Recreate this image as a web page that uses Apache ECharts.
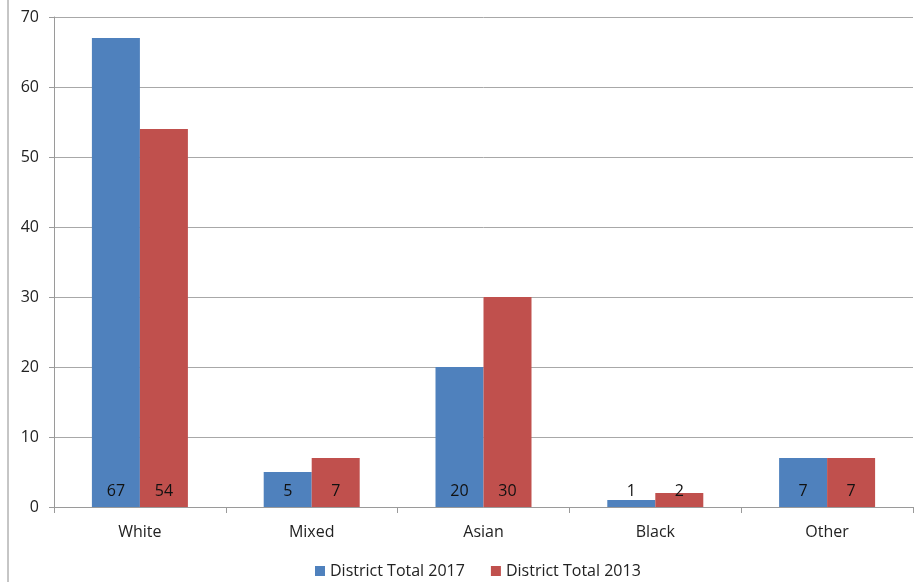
<!DOCTYPE html>
<html>
<head>
<meta charset="utf-8">
<script src="https://cdn.jsdelivr.net/npm/echarts@6/dist/echarts.min.js"></script>
<style>
  html, body { margin: 0; padding: 0; background: #fff; }
  #chart { width: 914px; height: 582px; }
</style>
</head>
<body>
<div id="chart"></div>
<script>
var categories = ['White', 'Mixed', 'Asian', 'Black', 'Other'];
var total2017 = [67, 5, 20, 1, 7];
var total2013 = [54, 7, 30, 2, 7];
var seriesNames = ['District Total 2017', 'District Total 2013'];
var barColors = ['#4F81BD', '#C0504D'];
var fontFamily = '"Open Sans", "Noto Sans", sans-serif';

var labelStyle = {
    show: true,
    position: 'insideBottom',
    distance: 8,
    color: '#111',
    fontSize: 16,
    fontFamily: fontFamily
};

var option = {
    animation: false,
    color: barColors,
    grid: {
        left: 54,
        right: 1,
        top: 17,
        bottom: 75
    },
    legend: {
        bottom: -2,
        left: 310,
        itemWidth: 10,
        itemHeight: 10,
        itemGap: 26,
        icon: 'rect',
        textStyle: { fontSize: 16, color: '#222', fontFamily: fontFamily },
        data: seriesNames
    },
    xAxis: {
        type: 'category',
        data: categories,
        axisLine: { lineStyle: { color: '#9a9a9a' } },
        axisTick: { show: true, length: 6, lineStyle: { color: '#9a9a9a' } },
        axisLabel: { margin: 17, fontSize: 16, color: '#222', fontFamily: fontFamily }
    },
    yAxis: {
        type: 'value',
        min: 0,
        max: 70,
        interval: 10,
        axisLine: { show: true, lineStyle: { color: '#9a9a9a' } },
        axisTick: { show: true, length: 5, lineStyle: { color: '#9a9a9a' } },
        axisLabel: { margin: 15, fontSize: 16, color: '#222', fontFamily: fontFamily },
        splitLine: { lineStyle: { color: '#a8a8a8' } }
    },
    series: [
        {
            name: seriesNames[0],
            type: 'bar',
            data: total2017,
            barWidth: 48,
            barGap: '0%',
            label: labelStyle
        },
        {
            name: seriesNames[1],
            type: 'bar',
            data: total2013,
            barWidth: 48,
            label: labelStyle
        }
    ],
    graphic: [{
        type: 'line',
        shape: { x1: 8, y1: 0, x2: 8, y2: 582 },
        style: { stroke: '#8c8c8c', lineWidth: 1 }
    }]
};

var chart = echarts.init(document.getElementById('chart'));
chart.setOption(option);
</script>
</body>
</html>
